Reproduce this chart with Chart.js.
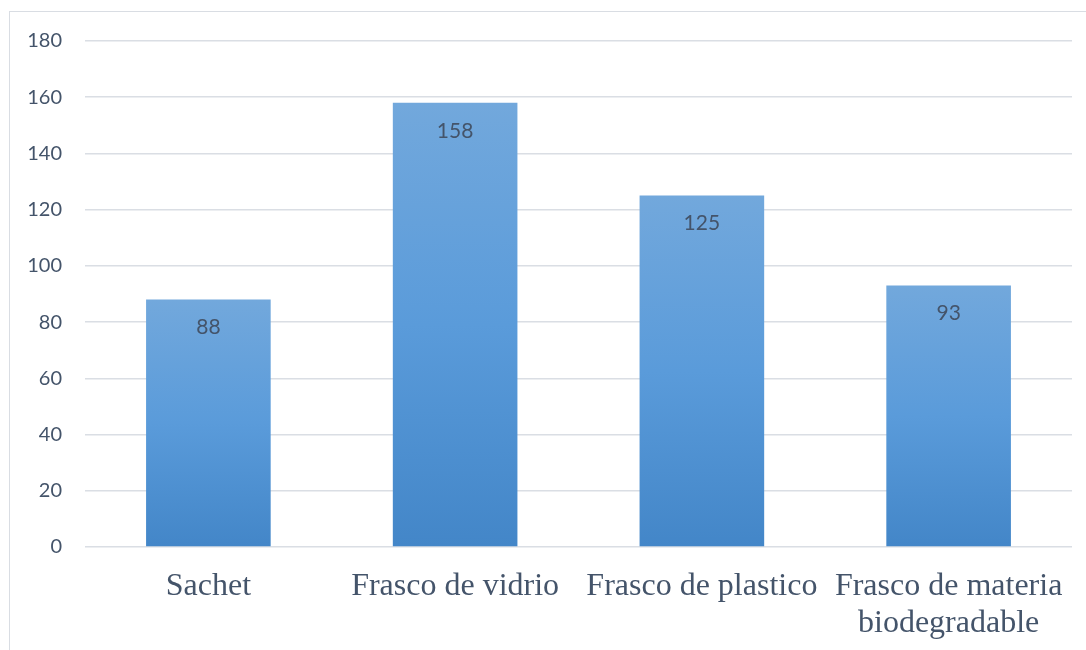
<!DOCTYPE html>
<html>
<head>
<meta charset="utf-8">
<script src="https://cdn.jsdelivr.net/npm/chart.js@4.4.1/dist/chart.umd.min.js"></script>
<style>
  html, body { margin: 0; padding: 0; background: #fff; }
  #marco {
    position: absolute; left: 9px; top: 11px; width: 1100px; height: 660px;
    border-left: 1px solid #d9dde3; border-top: 1px solid #d9dde3;
  }
  #grafico { position: absolute; left: 0; top: 0; }
</style>
</head>
<body>
<div id="marco"></div>
<canvas id="grafico" width="1086" height="650"></canvas>
<script>
// categorias y valores
const envases = ["Sachet", "Frasco de vidrio", "Frasco de plastico", ["Frasco de materia", "biodegradable"]];
const cantidades = [88, 158, 125, 93];

const colorTexto = "#44546A";

// degradado por barra, desde su tope hasta el cero del eje
function degradado(ctx) {
    const chart = ctx.chart;
    const area = chart.chartArea;
    if (!area || ctx.type !== "data") return "#5B9BD5";
    const y = chart.scales.y;
    const top = y.getPixelForValue(ctx.raw);
    const base = y.getPixelForValue(0);
    const g = chart.ctx.createLinearGradient(0, top, 0, base);
    g.addColorStop(0, "#72A8DC");
    g.addColorStop(0.5, "#5A9BDA");
    g.addColorStop(1, "#4386C8");
    return g;
}

// etiquetas de valor dentro de cada barra
const etiquetas = {
    id: "etiquetas",
    afterDatasetsDraw(chart) {
        const c = chart.ctx;
        const meta = chart.getDatasetMeta(0);
        c.save();
        c.font = "21px Lato, 'Open Sans', sans-serif";
        c.fillStyle = colorTexto;
        c.textAlign = "center";
        c.textBaseline = "middle";
        meta.data.forEach((bar, i) => {
            c.fillText(cantidades[i], bar.x, bar.y + 28);
        });
        c.restore();
    }
};

new Chart(document.getElementById("grafico"), {
    type: "bar",
    data: {
        labels: envases,
        datasets: [{
            data: cantidades,
            backgroundColor: degradado,
            borderWidth: 0,
            categoryPercentage: 1,
            barPercentage: 0.505
        }]
    },
    options: {
        responsive: false,
        animation: false,
        layout: { padding: { top: 41, right: 14, left: 0, bottom: 0 } },
        plugins: {
            legend: { display: false },
            tooltip: { enabled: false }
        },
        scales: {
            y: {
                min: 0,
                max: 180,
                ticks: {
                    stepSize: 20,
                    padding: 23,
                    color: colorTexto,
                    font: { family: "Lato, 'Open Sans', sans-serif", size: 20 }
                },
                grid: { color: "#DADEE4", lineWidth: 1.5, drawTicks: false },
                border: { display: false },
                afterFit(scale) { scale.width = 85; }
            },
            x: {
                ticks: {
                    padding: 21,
                    maxRotation: 0,
                    autoSkip: false,
                    color: colorTexto,
                    font: { family: "'Liberation Serif', 'Times New Roman', serif", size: 32, lineHeight: 1.15 }
                },
                grid: { display: false, drawTicks: false },
                border: { display: false },
                afterFit(scale) { scale.height = 103; }
            }
        }
    },
    plugins: [etiquetas]
});
</script>
</body>
</html>
